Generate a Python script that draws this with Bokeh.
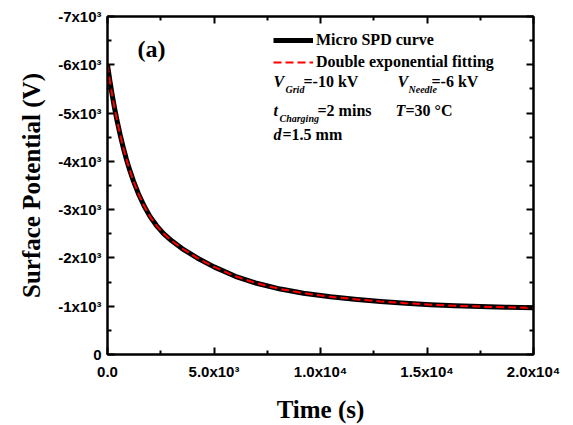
from bokeh.plotting import figure
from bokeh.models import (Range1d, FixedTicker, LinearAxis, Label, Legend, LegendItem,
                          ColumnDataSource)
from bokeh.embed import file_html
from bokeh.resources import INLINE

# ---- data ----
time_s = [0, 110, 220, 330, 460, 600, 750, 880, 1020, 1220, 1450, 1720, 2000, 2300,
          2620, 3000, 3500, 4210, 5000, 6000, 7000, 8120, 9200, 10470, 11600, 12820,
          14000, 15160, 16300, 17500, 18700, 20000]
spd_curve = [-6000, -5670, -5375, -5105, -4820, -4540, -4270, -4055, -3850, -3590,
             -3330, -3075, -2855, -2670, -2510, -2360, -2195, -2000, -1815, -1620,
             -1475, -1355, -1270, -1195, -1145, -1100, -1062, -1032, -1010, -992,
             -978, -966]
fit_curve = [-6000, -5670, -5375, -5105, -4820, -4540, -4270, -4055, -3850, -3590,
             -3330, -3075, -2855, -2670, -2510, -2360, -2195, -2000, -1815, -1620,
             -1475, -1355, -1270, -1195, -1145, -1100, -1062, -1032, -1010, -992,
             -978, -966]

x_ticks = [0, 5000, 10000, 15000, 20000]
x_minor = [2500, 7500, 12500, 17500]
x_labels = ["0.0", "5.0x10³", "1.0x10⁴", "1.5x10⁴", "2.0x10⁴"]
y_ticks = [0, -1000, -2000, -3000, -4000, -5000, -6000, -7000]
y_minor = [-500, -1500, -2500, -3500, -4500, -5500, -6500]
y_labels = ["0", "-1x10³", "-2x10³", "-3x10³", "-4x10³", "-5x10³", "-6x10³", "-7x10³"]

SERIF = "Liberation Serif"
SANS = "Liberation Sans"

p = figure(width=573, height=425, output_backend="svg", toolbar_location=None,
           x_range=Range1d(0, 20000), y_range=Range1d(0, -7000),
           min_border_left=107, min_border_right=40, min_border_top=16,
           min_border_bottom=67, background_fill_color="white",
           border_fill_color="white", outline_line_color="black",
           outline_line_width=2)
p.grid.visible = False

src = ColumnDataSource(dict(t=time_s, spd=spd_curve, fit=fit_curve))
r1 = p.line("t", "spd", source=src, line_color="black", line_width=5,
            line_join="round")
r2 = p.line("t", "fit", source=src, line_color="#ff0000", line_width=2,
            line_dash="8 4")

def style_axis(ax, ticks, minor, labels, show_labels=True):
    ax.ticker = FixedTicker(ticks=ticks, minor_ticks=minor)
    ax.major_label_overrides = {t: l for t, l in zip(ticks, labels)}
    ax.axis_line_width = 2
    ax.axis_line_color = "black"
    ax.major_tick_in = 7
    ax.major_tick_out = 0
    ax.minor_tick_in = 4
    ax.minor_tick_out = 0
    ax.major_tick_line_width = 2
    ax.minor_tick_line_width = 2
    ax.major_label_text_font = SANS
    ax.major_label_text_font_style = "bold"
    ax.major_label_text_font_size = "15px"
    ax.major_label_text_color = "black"
    if not show_labels:
        ax.major_label_text_alpha = 0
        ax.major_label_text_font_size = "1px"

xa = p.xaxis[0]
ya = p.yaxis[0]
style_axis(xa, x_ticks, x_minor, x_labels)
style_axis(ya, y_ticks, y_minor, y_labels)
xa.major_label_standoff = 8
ya.major_label_standoff = 6
xa.axis_label = "Time (s)"
ya.axis_label = "Surface Potential (V)"
for ax in (xa, ya):
    ax.axis_label_text_font = SERIF
    ax.axis_label_text_font_style = "bold"
    ax.axis_label_text_font_size = "25px"
    ax.axis_label_text_color = "black"
xa.axis_label_standoff = 13
ya.axis_label_standoff = 10

top = LinearAxis()
right = LinearAxis()
style_axis(top, x_ticks, x_minor, x_labels, show_labels=False)
style_axis(right, y_ticks, y_minor, y_labels, show_labels=False)
p.add_layout(top, "above")
p.add_layout(right, "right")

legend = Legend(items=[LegendItem(label="Micro SPD curve", renderers=[r1]),
                       LegendItem(label="Double exponential fitting", renderers=[r2])],
                location=(166, 282), border_line_alpha=0, background_fill_alpha=0,
                padding=0, margin=0, spacing=2, glyph_width=40, glyph_height=20,
                label_height=20, label_standoff=3,
                label_text_font=SERIF, label_text_font_style="bold",
                label_text_font_size="16px", label_text_color="black")
p.add_layout(legend)

def px2x(px):
    return (px - 107) * 20000 / 426

def px2y(py):
    return -(358 - py) * 7000 / 342

def lab(text, px, py, size="16px", style="bold"):
    p.add_layout(Label(x=px2x(px), y=px2y(py), text=text, text_font=SERIF,
                       text_font_style=style, text_font_size=size,
                       text_color="black", text_baseline="middle",
                       text_align="left"))

lab("(a)", 137, 49, size="24px")
lab("V", 273, 82, style="bold italic")
lab("Grid", 285, 90, size="10px", style="bold italic")
lab("=-10 kV", 303, 82)
lab("V", 397, 82, style="bold italic")
lab("Needle", 408, 90, size="10px", style="bold italic")
lab("=-6 kV", 431, 82)
lab("t", 273, 111, style="bold italic")
lab("Charging", 279, 119, size="10px", style="bold italic")
lab("=2 mins", 317, 111)
lab("T", 395, 111, style="bold italic")
lab("=30 °C", 405, 111)
lab("d", 273, 135, style="bold italic")
lab("=1.5 mm", 282, 135)

open("out.html", "w").write(file_html(p, INLINE))
